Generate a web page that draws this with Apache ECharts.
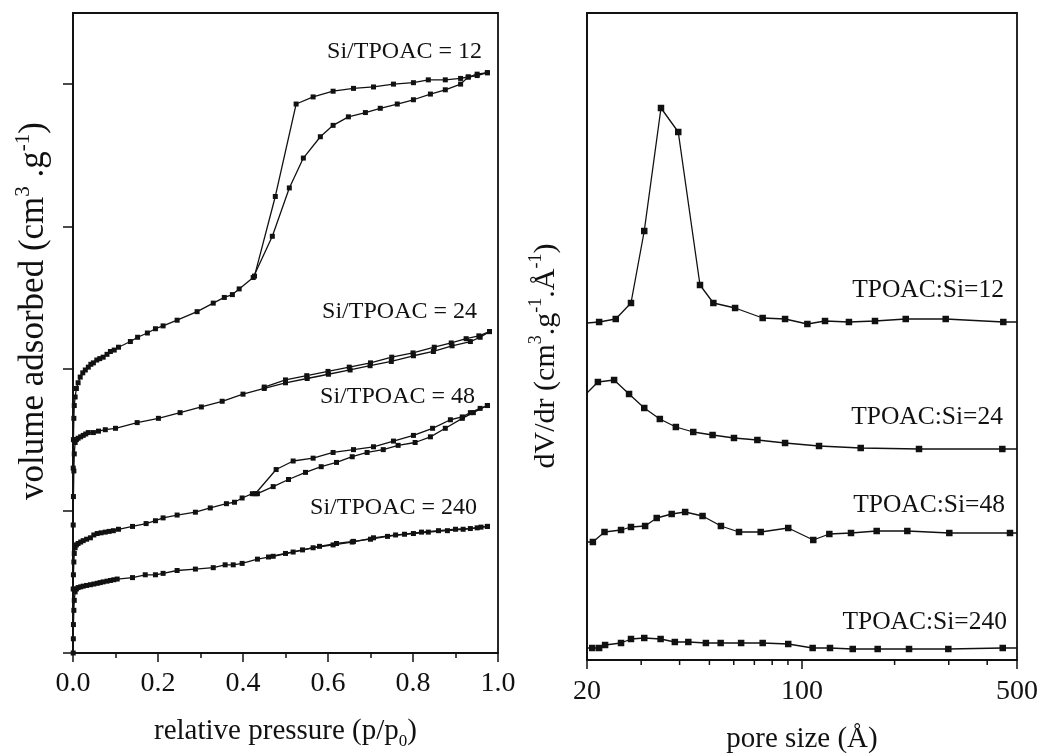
<!DOCTYPE html>
<html>
<head>
<meta charset="utf-8">
<script src="https://cdn.jsdelivr.net/npm/echarts@6/dist/echarts.min.js"></script>
<style>
  html, body { margin: 0; padding: 0; background: #fff; }
  #chart { width: 1040px; height: 754px; }
</style>
</head>
<body>
<div id="chart"></div>
<script>
// N2 sorption isotherms (left) and pore size distributions (right)
// for four Si/TPOAC ratios.

// ---- isotherms: [relative pressure, volume adsorbed (offset, arb. units)] ----
const iso12Ads = [[0.0005,1.30],[0.001,1.50],[0.002,1.65],[0.003,1.74],[0.005,1.80],[0.008,1.86],[0.012,1.90],[0.017,1.94],[0.023,1.97],[0.029,1.99],[0.036,2.01],[0.042,2.03],[0.048,2.04],[0.056,2.06],[0.063,2.07],[0.071,2.08],[0.080,2.10],[0.088,2.12],[0.097,2.13],[0.107,2.15],[0.135,2.19],[0.152,2.22],[0.175,2.25],[0.194,2.28],[0.212,2.30],[0.245,2.34],[0.292,2.40],[0.330,2.46],[0.356,2.50],[0.375,2.52],[0.391,2.56],[0.424,2.64],[0.469,2.93],[0.509,3.27],[0.542,3.48],[0.582,3.63],[0.612,3.71],[0.648,3.77],[0.688,3.80],[0.723,3.83],[0.763,3.86],[0.801,3.89],[0.841,3.93],[0.876,3.96],[0.912,4.00],[0.930,4.05],[0.951,4.06],[0.975,4.08]];
const iso12Des = [[0.975,4.08],[0.951,4.07],[0.930,4.05],[0.912,4.04],[0.876,4.03],[0.836,4.03],[0.801,4.01],[0.754,4.00],[0.707,3.98],[0.660,3.97],[0.612,3.95],[0.565,3.91],[0.525,3.86],[0.476,3.21],[0.427,2.65]];

const iso24Ads = [[0.0005,0.90],[0.001,1.10],[0.002,1.28],[0.003,1.40],[0.005,1.48],[0.008,1.50],[0.012,1.51],[0.018,1.52],[0.024,1.53],[0.030,1.54],[0.036,1.55],[0.048,1.55],[0.060,1.56],[0.076,1.57],[0.100,1.58],[0.151,1.62],[0.201,1.65],[0.252,1.69],[0.302,1.73],[0.351,1.77],[0.400,1.82],[0.450,1.86],[0.500,1.90],[0.551,1.93],[0.601,1.96],[0.652,1.99],[0.699,2.02],[0.749,2.05],[0.801,2.09],[0.848,2.12],[0.892,2.16],[0.935,2.19],[0.958,2.22],[0.980,2.26]];
const iso24Des = [[0.980,2.26],[0.955,2.23],[0.925,2.21],[0.890,2.18],[0.850,2.15],[0.800,2.11],[0.750,2.08],[0.700,2.04],[0.650,2.01],[0.600,1.98],[0.550,1.95],[0.500,1.92],[0.450,1.87]];

const iso48Ads = [[0.0005,0.45],[0.001,0.55],[0.002,0.64],[0.003,0.70],[0.005,0.74],[0.008,0.76],[0.012,0.77],[0.018,0.78],[0.024,0.79],[0.032,0.80],[0.041,0.81],[0.049,0.83],[0.057,0.84],[0.066,0.845],[0.076,0.85],[0.085,0.855],[0.095,0.86],[0.107,0.87],[0.140,0.89],[0.172,0.91],[0.194,0.93],[0.212,0.95],[0.245,0.97],[0.288,0.99],[0.323,1.02],[0.361,1.05],[0.380,1.06],[0.398,1.09],[0.422,1.12],[0.434,1.12],[0.471,1.17],[0.507,1.22],[0.547,1.27],[0.584,1.31],[0.620,1.34],[0.657,1.38],[0.692,1.41],[0.730,1.43],[0.765,1.46],[0.805,1.48],[0.841,1.52],[0.876,1.58],[0.916,1.65],[0.942,1.69],[0.975,1.74]];
const iso48Des = [[0.975,1.74],[0.958,1.72],[0.935,1.69],[0.916,1.66],[0.888,1.64],[0.846,1.58],[0.801,1.53],[0.754,1.49],[0.707,1.45],[0.660,1.43],[0.612,1.41],[0.565,1.37],[0.518,1.35],[0.478,1.29],[0.429,1.12]];

const iso240Ads = [[0.0005,0.00],[0.0008,0.10],[0.001,0.20],[0.002,0.30],[0.003,0.37],[0.005,0.43],[0.008,0.45],[0.012,0.46],[0.018,0.465],[0.024,0.47],[0.032,0.475],[0.041,0.48],[0.049,0.485],[0.057,0.49],[0.064,0.495],[0.071,0.50],[0.080,0.505],[0.088,0.51],[0.096,0.515],[0.104,0.52],[0.140,0.53],[0.170,0.55],[0.194,0.55],[0.212,0.56],[0.245,0.58],[0.288,0.59],[0.330,0.60],[0.358,0.62],[0.377,0.62],[0.398,0.63],[0.434,0.66],[0.471,0.68],[0.518,0.71],[0.565,0.74],[0.612,0.76],[0.657,0.78],[0.707,0.81],[0.759,0.83],[0.801,0.84],[0.836,0.85],[0.881,0.86],[0.918,0.87],[0.951,0.88],[0.975,0.89]];
const iso240Des = [[0.975,0.89],[0.960,0.885],[0.935,0.875],[0.900,0.87],[0.860,0.86],[0.820,0.85],[0.780,0.835],[0.740,0.82],[0.700,0.80],[0.660,0.785],[0.620,0.77],[0.580,0.75],[0.540,0.725],[0.500,0.70],[0.460,0.675]];

// ---- pore size distributions: [pore size (Å), dV/dr (offset, arb. units)] ----
const psd12 = [[20,3.37],[21.9,3.38],[24.8,3.41],[27.8,3.57],[30.7,4.29],[34.8,5.52],[39.6,5.28],[46.6,3.75],[51.5,3.57],[60.6,3.52],[74.5,3.42],[88.1,3.41],[104.1,3.36],[118.8,3.39],[142.1,3.38],[172.7,3.39],[217.4,3.41],[293.2,3.41],[451.3,3.38],[500,3.38]];
const psd24 = [[20,2.67],[21.7,2.78],[24.5,2.80],[27.4,2.66],[30.7,2.52],[34.5,2.41],[38.9,2.33],[44.3,2.28],[51.2,2.25],[60.1,2.22],[71.6,2.20],[88.1,2.17],[113.6,2.14],[155.2,2.12],[240.1,2.11],[448,2.11],[500,2.11]];
const psd48 = [[20,1.18],[20.9,1.18],[22.8,1.28],[25.8,1.30],[27.8,1.33],[30.9,1.34],[33.7,1.42],[37.7,1.46],[41.7,1.48],[47.5,1.44],[54.5,1.34],[62.4,1.28],[73.4,1.28],[90.2,1.32],[108.8,1.20],[122.7,1.26],[144.3,1.27],[174.9,1.29],[220,1.29],[301.2,1.27],[474.5,1.27],[500,1.27]];
const psd240 = [[20,0.12],[20.8,0.12],[21.9,0.12],[22.9,0.15],[25.8,0.17],[27.8,0.21],[30.7,0.22],[34.7,0.21],[38.6,0.18],[42.7,0.18],[48.7,0.17],[54.4,0.17],[63.4,0.17],[74.5,0.17],[90.2,0.16],[108.3,0.12],[123.3,0.12],[146.2,0.11],[176.2,0.11],[222.8,0.11],[299,0.11],[449.4,0.12],[500,0.12]];

// ---- axis ticks and curve labels ----
const volumeTicks = [0, 1, 2, 3, 4];
const poreMajorTicks = [20, 100, 500];
const poreMinorTicks = [30, 40, 50, 60, 70, 80, 90, 200, 300, 400];
const isoLabels = ['Si/TPOAC = 12', 'Si/TPOAC = 24', 'Si/TPOAC = 48', 'Si/TPOAC = 240'];
const psdLabels = ['TPOAC:Si=12', 'TPOAC:Si=24', 'TPOAC:Si=48', 'TPOAC:Si=240'];

const FONT = '"Liberation Serif", "Times New Roman", serif';
const INK = '#111';

const chart = echarts.init(document.getElementById('chart'), null, { renderer: 'canvas' });

function curve(data, xAxisIndex, yAxisIndex, size, edge) {
  return {
    type: 'line',
    xAxisIndex, yAxisIndex,
    data: data.map(p => (edge && (p[0] <= edge[0] || p[0] >= edge[1]))
      ? { value: p, symbol: 'none' } : p),
    symbol: 'rect',
    symbolSize: size,
    showSymbol: true,
    animation: false,
    lineStyle: { color: INK, width: 1.3 },
    itemStyle: { color: INK },
    emphasis: { disabled: true },
    z: 3
  };
}

// log-axis tick marks (major = 1, minor = 0), placed through the pore-size axis
const TICK_LEN = { 1: 9, 0: 5 };
const poreTicks = {
  type: 'custom',
  coordinateSystem: 'cartesian2d',
  xAxisIndex: 1, yAxisIndex: 1,
  data: poreMajorTicks.map(v => [v, 1]).concat(poreMinorTicks.map(v => [v, 0])),
  encode: { x: 0 },
  clip: false,
  silent: true,
  animation: false,
  z: 10,
  renderItem: (params, api) => {
    const p = api.coord([api.value(0), 0]);
    const len = TICK_LEN[api.value(1)];
    return {
      type: 'line',
      shape: { x1: p[0], y1: p[1], x2: p[0], y2: p[1] + len },
      style: { stroke: INK, lineWidth: 1.5 }
    };
  }
};

// rich-text styles for superscripts / subscripts in axis titles
function richFor(size) {
  const small = Math.round(size * 0.6);
  return {
    sup: { fontSize: small, fontFamily: FONT, fill: INK, color: INK, verticalAlign: 'top', lineHeight: small },
    sub: { fontSize: small, fontFamily: FONT, fill: INK, color: INK, verticalAlign: 'bottom', lineHeight: small }
  };
}

const titleStyle = (size) => ({
  fontFamily: FONT, fontSize: size, color: INK, lineHeight: size + 8, rich: richFor(size)
});

const isoLabelPos = [[482, 52], [477, 312], [475, 397], [477, 508]];
const psdLabelPos = [[1004, 290], [1003, 417], [1005, 505], [1007, 622]];

const graphic = [];
isoLabels.forEach((t, i) => graphic.push({
  type: 'text', x: isoLabelPos[i][0], y: isoLabelPos[i][1], silent: true,
  style: { text: t, fontFamily: FONT, fontSize: 24, fill: INK, align: 'right', verticalAlign: 'middle' }
}));
psdLabels.forEach((t, i) => graphic.push({
  type: 'text', x: psdLabelPos[i][0], y: psdLabelPos[i][1], silent: true,
  style: { text: t, fontFamily: FONT, fontSize: 25.5, fill: INK, align: 'right', verticalAlign: 'middle' }
}));

// vertical axis titles
graphic.push({
  type: 'text', x: 34, y: 311, rotation: Math.PI / 2, silent: true,
  style: {
    text: 'volume adsorbed (cm{sup|3} .g{sup|-1})', fontFamily: FONT, fontSize: 35, fill: INK,
    lineHeight: 43, align: 'center', verticalAlign: 'middle', rich: richFor(35)
  }
});
graphic.push({
  type: 'text', x: 546, y: 356, rotation: Math.PI / 2, silent: true,
  style: {
    text: 'dV/dr (cm{sup|3}.g{sup|-1}.Å{sup|-1})', fontFamily: FONT, fontSize: 30, fill: INK,
    lineHeight: 38, align: 'center', verticalAlign: 'middle', rich: richFor(30)
  }
});

const frame = () => ({ show: true, borderColor: INK, borderWidth: 1.8, backgroundColor: 'transparent', containLabel: false, outerBoundsMode: 'none' });
const line = () => ({ show: true, lineStyle: { color: INK, width: 1.8 } });

chart.setOption({
  backgroundColor: '#fff',
  animation: false,
  grid: [
    Object.assign({ left: 73, top: 13, width: 425, height: 640 }, frame()),
    Object.assign({ left: 587, top: 13, width: 430, height: 647 }, frame())
  ],
  xAxis: [
    {
      gridIndex: 0, type: 'value', min: 0, max: 1, interval: 0.2,
      axisLine: line(),
      axisTick: { show: true, inside: false, length: 9, lineStyle: { color: INK, width: 1.5 } },
      minorTick: { show: true, splitNumber: 2, length: 5, lineStyle: { color: INK, width: 1.5 } },
      axisLabel: { formatter: v => v.toFixed(1), fontFamily: FONT, fontSize: 28, color: INK, margin: 17 },
      splitLine: { show: false },
      name: 'relative pressure (p/p{sub|0})', nameLocation: 'middle', nameGap: 60,
      nameTextStyle: titleStyle(29)
    },
    {
      gridIndex: 1, type: 'log', logBase: 10, min: 20, max: 500, position: 'bottom',
      axisLine: line(),
      axisTick: { show: false },
      axisLabel: { customValues: poreMajorTicks, formatter: v => String(Math.round(v)), fontFamily: FONT, fontSize: 28, color: INK, margin: 18 },
      splitLine: { show: false },
      name: 'pore size (Å)', nameLocation: 'middle', nameGap: 61,
      nameTextStyle: titleStyle(29)
    }
  ],
  yAxis: [
    {
      gridIndex: 0, type: 'value', min: 0, max: 4.5, interval: 1,
      axisLine: line(),
      axisTick: { show: true, inside: false, length: 10, customValues: volumeTicks, lineStyle: { color: INK, width: 1.5 } },
      axisLabel: { show: false },
      splitLine: { show: false }
    },
    {
      gridIndex: 1, type: 'value', min: 0, max: 6.47,
      axisLine: line(),
      axisTick: { show: false },
      axisLabel: { show: false },
      splitLine: { show: false }
    }
  ],
  series: [
    curve(iso12Ads, 0, 0, 5), curve(iso12Des, 0, 0, 5),
    curve(iso24Ads, 0, 0, 5), curve(iso24Des, 0, 0, 5),
    curve(iso48Ads, 0, 0, 5), curve(iso48Des, 0, 0, 5),
    curve(iso240Ads, 0, 0, 5), curve(iso240Des, 0, 0, 5),
    curve(psd12, 1, 1, 6.5, [20, 500]),
    curve(psd24, 1, 1, 6.5, [20, 500]),
    curve(psd48, 1, 1, 6.5, [20, 500]),
    curve(psd240, 1, 1, 6.5, [20, 500]),
    poreTicks
  ],
  graphic
});
</script>
</body>
</html>
